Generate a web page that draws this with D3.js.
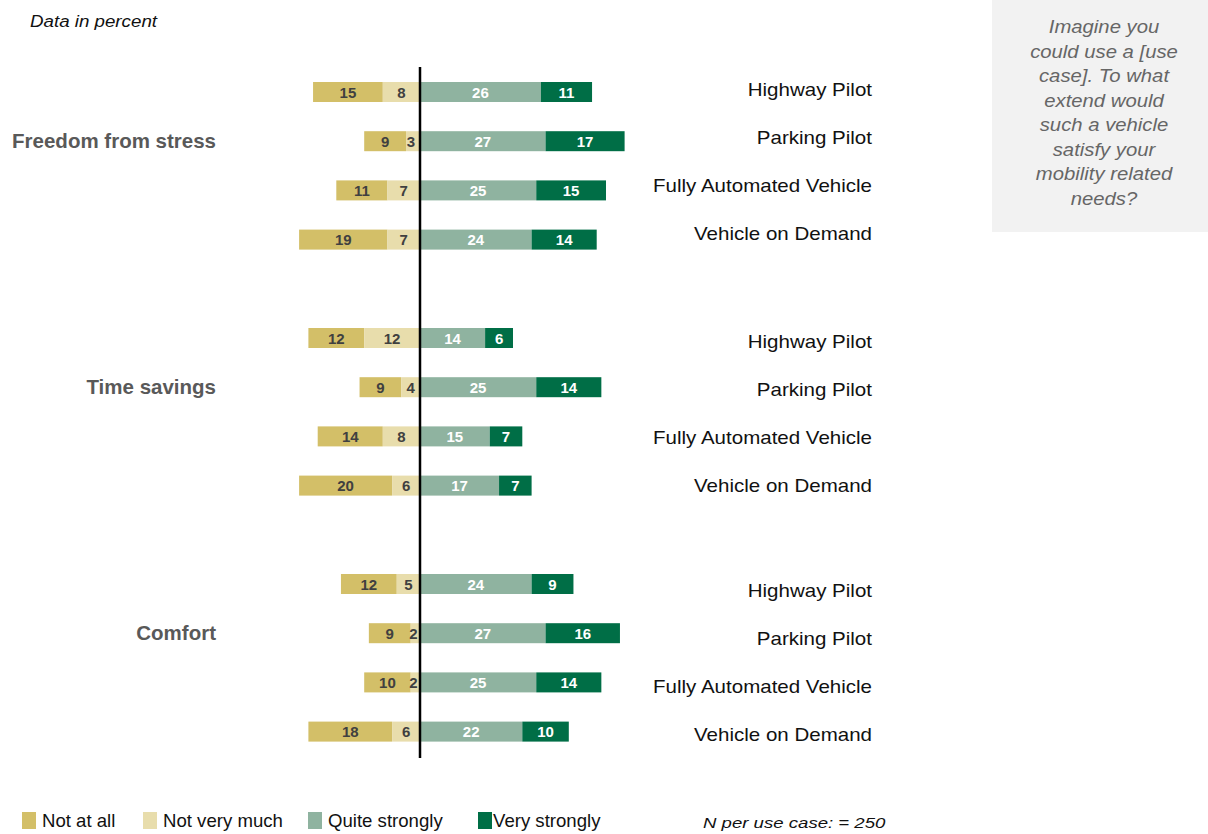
<!DOCTYPE html>
<html>
<head>
<meta charset="utf-8">
<script src="https://cdn.jsdelivr.net/npm/d3@7"></script>
<style>
  body { margin: 0; background: #fff; }
  svg { display: block; font-family: "Liberation Sans", Arial, sans-serif; }
</style>
</head>
<body>
<svg id="chart" width="1208" height="834"></svg>
<script>
// data
const groups = ["Freedom from stress", "Time savings", "Comfort"];
const useCases = ["Highway Pilot", "Parking Pilot", "Fully Automated Vehicle", "Vehicle on Demand"];
const categories = ["Not at all", "Not very much", "Quite strongly", "Very strongly"];
const notAtAll      = [15, 9, 11, 19,  12, 9, 14, 20,  12, 9, 10, 18];
const notVeryMuch   = [8, 3, 7, 7,     12, 4, 8, 6,    5, 2, 2, 6];
const quiteStrongly = [26, 27, 25, 24, 14, 25, 15, 17, 24, 27, 25, 22];
const veryStrongly  = [11, 17, 15, 14, 6, 14, 7, 7,    9, 16, 14, 10];
const question = ["Imagine you", "could use a [use", "case]. To what", "extend would",
  "such a vehicle", "satisfy your", "mobility related", "needs?"];
const colors = ["#d3bf68", "#e8ddac", "#8fb3a0", "#006e46"];

// rows, slot index leaves a gap between groups
const rows = [];
groups.forEach((g, gi) => {
  useCases.forEach((u, ui) => {
    const i = gi * 4 + ui;
    rows.push({
      group: g, gi: gi, ui: ui, useCase: u, slot: gi * 5 + ui,
      vals: [notAtAll[i], notVeryMuch[i], quiteStrongly[i], veryStrongly[i]]
    });
  });
});

const svg = d3.select("#chart");

const x = d3.scaleLinear().domain([-30, 50]).range([280.5, 652.5]);
const y = d3.scaleLinear().domain([0, 13]).range([92, 731.6]);
const barH = 20;

// text that is a bit wider than the font (the slide stretched it)
function stretchText(parent, tx, ty, size, sx) {
  return parent.append("text")
    .attr("transform", `translate(${tx},${ty}) scale(${sx},1)`)
    .attr("font-size", size);
}

// bars
rows.forEach(r => {
  const segs = [
    { k: 0, x0: -(r.vals[0] + r.vals[1]), x1: -r.vals[1], v: r.vals[0] },
    { k: 1, x0: -r.vals[1], x1: 0, v: r.vals[1] },
    { k: 2, x0: 0, x1: r.vals[2], v: r.vals[2] },
    { k: 3, x0: r.vals[2], x1: r.vals[2] + r.vals[3], v: r.vals[3] }
  ];
  const g = svg.append("g");
  g.selectAll("rect").data(segs).enter().append("rect")
    .attr("x", d => x(d.x0))
    .attr("y", y(r.slot) - barH / 2)
    .attr("width", d => x(d.x1) - x(d.x0))
    .attr("height", barH)
    .attr("fill", d => colors[d.k]);
  g.selectAll("text").data(segs).enter().append("text")
    .attr("x", d => (x(d.x0) + x(d.x1)) / 2 - (d.v <= 3 ? 2 : 0))
    .attr("y", y(r.slot) + 5.5)
    .attr("text-anchor", "middle")
    .attr("font-size", 15)
    .attr("font-weight", "bold")
    .attr("fill", d => d.k < 2 ? "#404040" : "#fff")
    .text(d => d.v);

  // use case label (label column sits a little off the bars)
  const groupTop = [96, 348, 597][r.gi];
  stretchText(svg, 872, groupTop + r.ui * 48, 18, 1.14)
    .attr("text-anchor", "end")
    .attr("fill", "#111")
    .text(r.useCase);
});

// group labels
groups.forEach((g, gi) => {
  svg.append("text")
    .attr("x", 216)
    .attr("y", y(gi * 5 + 1) + 7)
    .attr("text-anchor", "end")
    .attr("font-size", 20.5)
    .attr("font-weight", "bold")
    .attr("fill", "#595959")
    .text(g);
});

// zero line
svg.append("line")
  .attr("x1", x(0)).attr("x2", x(0))
  .attr("y1", 67).attr("y2", 758)
  .attr("stroke", "#000").attr("stroke-width", 2.5);

// top-left note
stretchText(svg, 30, 27, 16.3, 1.15)
  .attr("font-style", "italic").attr("fill", "#111")
  .text("Data in percent");

// question box
svg.append("rect")
  .attr("x", 992).attr("y", 0).attr("width", 216).attr("height", 232)
  .attr("fill", "#f2f2f2");
question.forEach((line, i) => {
  stretchText(svg, 1104, 33 + i * 24.5, 17.5, 1.16)
    .attr("font-style", "italic").attr("fill", "#666")
    .attr("text-anchor", "middle")
    .text(line);
});

// legend
const legendX = [22, 143, 308, 478];
const legendTx = [42, 163, 328, 493];
categories.forEach((c, i) => {
  svg.append("rect")
    .attr("x", legendX[i]).attr("y", 812)
    .attr("width", 14).attr("height", 17)
    .attr("fill", colors[i]);
  svg.append("text")
    .attr("x", legendTx[i]).attr("y", 827)
    .attr("font-size", 18.6).attr("fill", "#111")
    .text(c);
});

stretchText(svg, 703, 828, 15.5, 1.2)
  .attr("font-style", "italic").attr("fill", "#111")
  .text("N per use case: = 250");
</script>
</body>
</html>
